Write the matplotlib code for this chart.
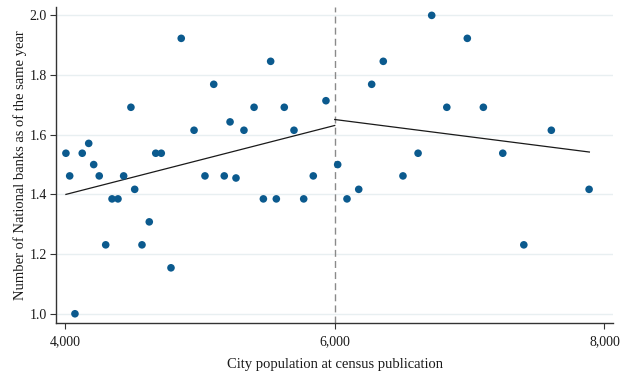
import matplotlib
matplotlib.use("Agg")
import matplotlib.pyplot as plt
from matplotlib.ticker import FuncFormatter

plt.rcParams["font.family"] = ["Liberation Serif", "DejaVu Serif"]

# Binned means: city population vs. number of national banks
population = [4007, 4035, 4074, 4128, 4176, 4213, 4254, 4302, 4349, 4393,
              4435, 4489, 4517, 4571, 4625, 4673, 4714, 4786, 4862, 4957,
              5038, 5103, 5181, 5224, 5268, 5327, 5402, 5471, 5525, 5567,
              5626, 5698, 5770, 5841, 5935, 6022, 6091, 6178, 6274, 6360,
              6506, 6618, 6719, 6831, 6983, 7102, 7246, 7402, 7606, 7886]
banks = [1.538, 1.462, 1.000, 1.538, 1.571, 1.500, 1.462, 1.231, 1.385, 1.385,
         1.462, 1.692, 1.417, 1.231, 1.308, 1.538, 1.538, 1.154, 1.923, 1.615,
         1.462, 1.769, 1.462, 1.643, 1.455, 1.615, 1.692, 1.385, 1.846, 1.385,
         1.692, 1.615, 1.385, 1.462, 1.714, 1.500, 1.385, 1.417, 1.769, 1.846,
         1.462, 1.538, 2.000, 1.692, 1.923, 1.692, 1.538, 1.231, 1.615, 1.417]

# Linear fits on each side of the 6,000 threshold
fit_left_x = [4007, 6000]
fit_left_y = [1.400, 1.631]
fit_right_x = [6000, 7888]
fit_right_y = [1.651, 1.542]

threshold = 6000
x_ticks = [4000, 6000, 8000]
y_ticks = [1.0, 1.2, 1.4, 1.6, 1.8, 2.0]

fig = plt.figure(figsize=(6.31, 3.79), dpi=100)
ax = fig.add_axes([0.0895, 0.1485, 0.8815, 0.833])

for y in y_ticks:
    ax.axhline(y, color="#e8eff1", lw=1.0, zorder=0)

ax.axvline(threshold, color="#8a8a8a", lw=1.0, ls=(0, (5, 3)), zorder=1)

ax.scatter(population, banks, s=30, color="#0b5a8e", edgecolors="none", zorder=3)
ax.plot(fit_left_x, fit_left_y, color="#1a1a1a", lw=0.9, zorder=2)
ax.plot(fit_right_x, fit_right_y, color="#1a1a1a", lw=0.9, zorder=2)

ax.set_xlim(3937, 8061)
ax.set_ylim(0.970, 2.028)
ax.set_xticks(x_ticks)
ax.set_yticks(y_ticks)
ax.xaxis.set_major_formatter(FuncFormatter(lambda v, p: f"{int(v):,}"))
ax.yaxis.set_major_formatter(FuncFormatter(lambda v, p: f"{v:.1f}"))

for side in ("top", "right"):
    ax.spines[side].set_visible(False)
for side in ("left", "bottom"):
    ax.spines[side].set_color("#333333")
    ax.spines[side].set_linewidth(1.0)

ax.tick_params(axis="both", direction="out", length=4, width=0.8,
               color="#333333", labelsize=10, labelcolor="#1a1a1a")
ax.tick_params(axis="x", pad=5)
ax.tick_params(axis="y", pad=3)

ax.set_xlabel("City population at census publication", fontsize=10.5,
              color="#1a1a1a", labelpad=7)
ax.set_ylabel("Number of National banks as of the same year", fontsize=10.5,
              color="#1a1a1a", labelpad=2)

fig.savefig("out.png", dpi=100)
